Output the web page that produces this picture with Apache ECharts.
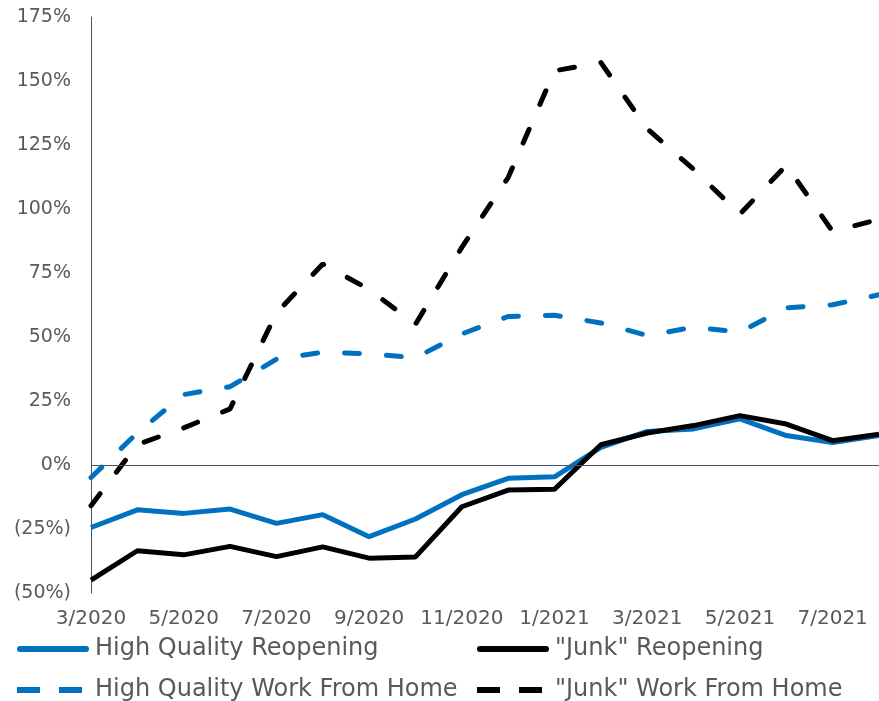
<!DOCTYPE html>
<html>
<head>
<meta charset="utf-8">
<script src="https://cdn.jsdelivr.net/npm/echarts@6/dist/echarts.min.js"></script>
<style>
  html, body { margin: 0; padding: 0; background: #fff; }
  #chart { width: 879px; height: 701px; }
</style>
</head>
<body>
<div id="chart"></div>
<script>
// Monthly categories, 3/2020 through 8/2021
const months = ['3/2020','4/2020','5/2020','6/2020','7/2020','8/2020','9/2020','10/2020','11/2020','12/2020',
                '1/2021','2/2021','3/2021','4/2021','5/2021','6/2021','7/2021','8/2021'];

// Cumulative returns, in percent
const hqReopening  = [-24.4,-17.5,-18.9,-17.2,-22.8,-19.4,-28.0,-21.1,-11.6,-5.2,-4.6,6.9,13.1,14.1,18.0,11.5,8.8,11.5];
const junkReopening = [-45.0,-33.5,-35.1,-31.8,-35.8,-32.0,-36.4,-35.9,-16.3,-9.8,-9.5,7.9,12.5,15.4,19.3,16.0,9.5,12.0];
const hqWfh   = [-4.9,12.6,27.5,30.6,41.3,44.1,43.4,41.9,51.2,58.0,58.5,55.5,50.6,53.8,51.9,61.4,62.6,66.5];
const junkWfh = [-15.9,8.0,14.5,21.9,59.4,78.5,68.6,55.0,85.0,112.3,154.0,157.2,131.3,115.5,98.0,117.1,91.2,96.0];

const yTicks = { min: -50, max: 175, step: 25 };

const BLUE = '#0070C0';
const BLACK = '#000000';
const AXIS = '#44546A';
const TEXT = '#595959';
const FONT = 'DejaVu Sans';
const DASH = [15, 27];

// Legend keys: a bar for solid lines, two short bars for dashed lines
const SOLID_KEY = 'path://M3,0 L69,0 A3,3 0 0 1 69,6 L3,6 A3,3 0 0 1 3,0 Z';
const DASH_KEY = 'path://M0,0 L23,0 L23,6 L0,6 Z M42,0 L65,0 L65,6 L42,6 Z';

function pctLabel(v) {
  return v < 0 ? '(' + Math.abs(v) + '%)' : v + '%';
}

const chart = echarts.init(document.getElementById('chart'), null, { renderer: 'canvas' });

function legendAt(name, left, top, dashed) {
  return {
    data: [{ name: name, icon: dashed ? DASH_KEY : SOLID_KEY }],
    left: left, top: top,
    padding: 0,
    itemWidth: dashed ? 65 : 72, itemHeight: 6,
    symbolKeepAspect: false,
    selectedMode: false,
    textStyle: { color: TEXT, fontSize: 24, fontFamily: FONT, padding: [0, 0, 0, dashed ? 8 : 1] }
  };
}

chart.setOption({
  animation: false,
  grid: { left: 91, right: -11, top: 17, bottom: 108 },
  legend: [
    legendAt('High Quality Reopening', 17, 637, false),
    legendAt('"Junk" Reopening', 477, 637, false),
    legendAt('High Quality Work From Home', 17, 678, true),
    legendAt('"Junk" Work From Home', 477, 678, true)
  ],
  xAxis: {
    type: 'category',
    data: months,
    boundaryGap: false,
    axisLine: { show: false, onZero: false },
    axisTick: { show: false },
    splitLine: { show: false },
    axisLabel: { interval: 1, color: TEXT, fontSize: 20, fontFamily: FONT, margin: 16 }
  },
  yAxis: {
    type: 'value',
    min: yTicks.min, max: yTicks.max, interval: yTicks.step,
    axisLine: { show: true, lineStyle: { color: AXIS, width: 1 } },
    axisTick: { show: false },
    splitLine: { show: false },
    axisLabel: { color: TEXT, fontSize: 19, fontFamily: FONT, margin: 20, formatter: pctLabel }
  },
  series: [
    {
      name: 'High Quality Reopening', type: 'line', data: hqReopening,
      symbol: 'none', lineStyle: { color: BLUE, width: 5 }, itemStyle: { color: BLUE },
      markLine: {
        silent: true, symbol: 'none', label: { show: false },
        lineStyle: { color: AXIS, width: 1, type: 'solid' },
        data: [{ yAxis: 0 }]
      }
    },
    {
      name: 'High Quality Work From Home', type: 'line', data: hqWfh,
      symbol: 'none', lineStyle: { color: BLUE, width: 5, type: DASH, cap: 'round' }, itemStyle: { color: BLUE }
    },
    {
      name: '"Junk" Reopening', type: 'line', data: junkReopening,
      symbol: 'none', lineStyle: { color: BLACK, width: 5 }, itemStyle: { color: BLACK }
    },
    {
      name: '"Junk" Work From Home', type: 'line', data: junkWfh,
      symbol: 'none', lineStyle: { color: BLACK, width: 5, type: DASH, cap: 'round' }, itemStyle: { color: BLACK }
    }
  ]
});
</script>
</body>
</html>
